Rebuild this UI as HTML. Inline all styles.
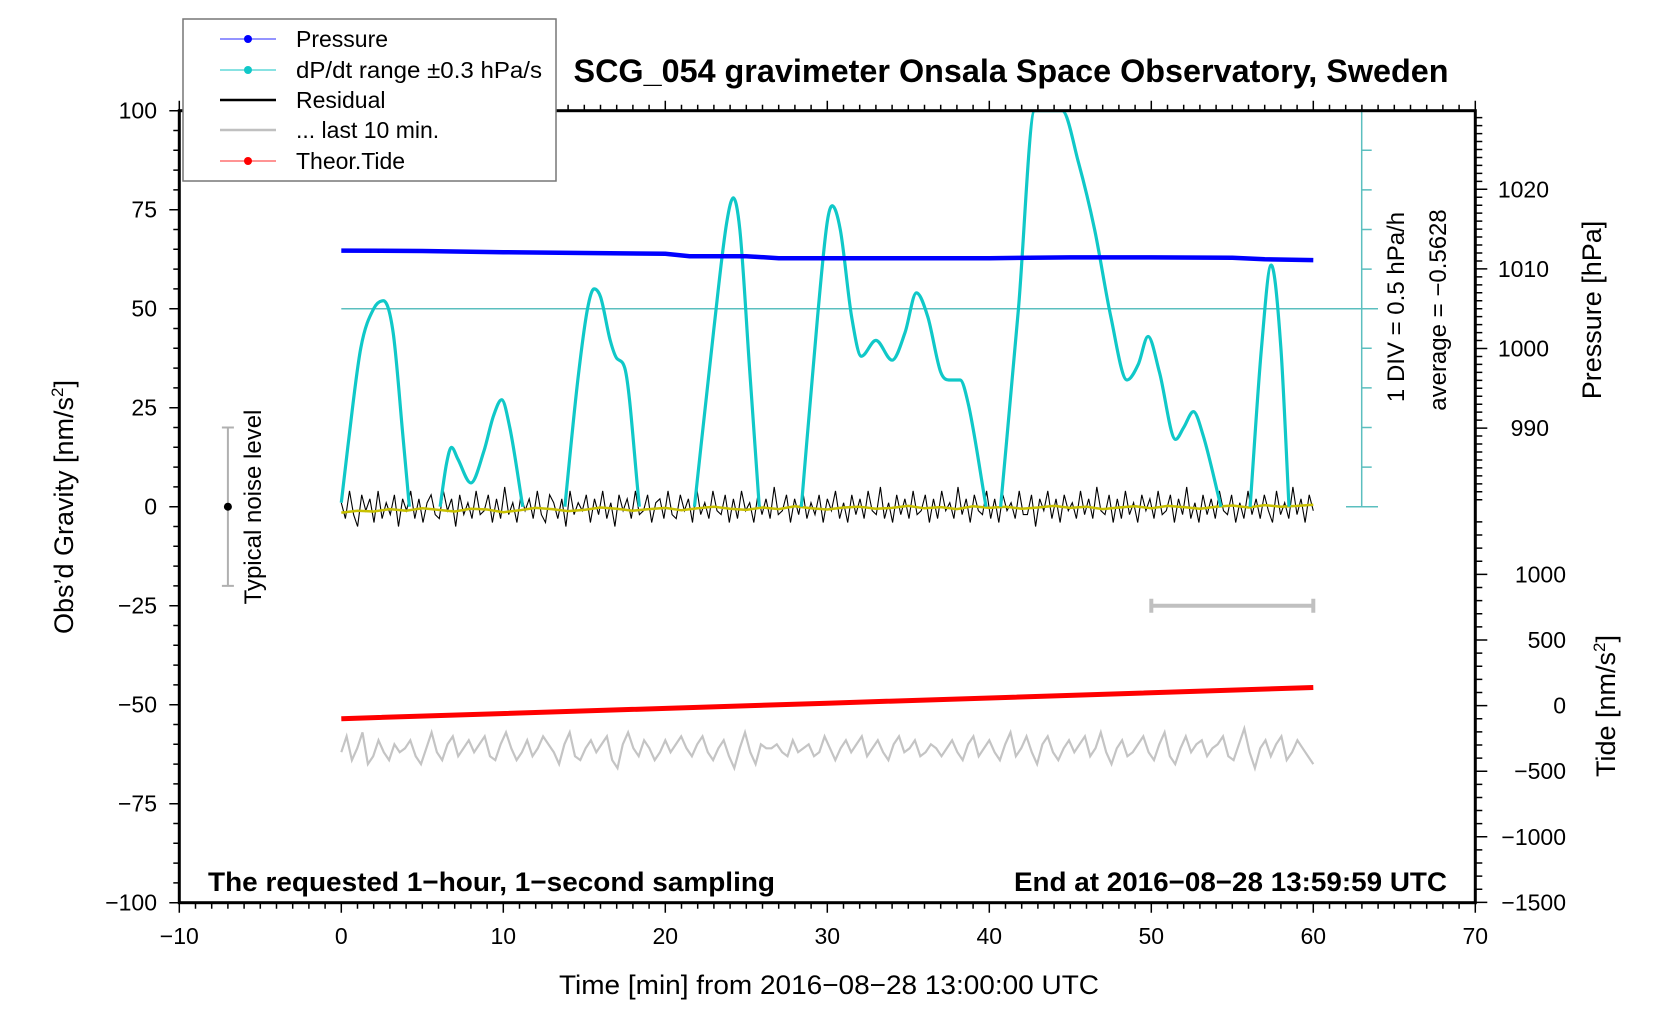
<!DOCTYPE html>
<html><head><meta charset="utf-8"><style>
html,body{margin:0;padding:0;background:#fff;}
svg{display:block;font-family:"Liberation Sans",Arial,sans-serif;}
</style></head><body>
<svg id="chart" width="1676" height="1020" viewBox="0 0 1676 1020" xmlns="http://www.w3.org/2000/svg">
<defs><clipPath id="plotclip"><rect x="179" y="110" width="1297" height="793"/></clipPath></defs>
<g id="layer-marks" clip-path="url(#plotclip)"></g>
<g id="layer-axes"></g>
<g id="layer-text"></g>
</svg>
<script>
// ---- data ----
const xTicks = [-10,0,10,20,30,40,50,60,70];
const gTicks = [100,75,50,25,0,-25,-50,-75,-100];
const pTicks = [1020,1010,1000,990];
const tTicks = [1000,500,0,-500,-1000,-1500];
const dpTimes = [0,0.4,1.2,2.0,2.6,3.2,3.8,4.2,6.1,6.5,6.8,7.2,8.0,8.8,9.4,9.9,10.4,11.2,13.8,14.6,15.2,15.6,16.0,16.6,17.0,17.5,18.4,21.8,23.0,23.8,24.2,24.6,25.2,25.8,28.4,29.4,30.0,30.3,30.8,31.5,32.1,33.0,34.0,34.8,35.5,36.2,37.0,37.5,38.2,38.7,39.8,40.7,41.8,42.8,44.5,45.5,46.5,47.5,48.5,49.2,49.8,50.5,51.5,52.0,52.6,53.2,54.3,56.1,56.8,57.4,58.0,58.5];
const dpValues = [1,15,40,50,52,44,18,0,0,11,15,12,6,14,23,27,20,0,0,32,50,55,53,42,37.5,35,0,0,45,72,78,70,35,0,0,48,72,76,70,48,38,42,37,44,54,48,34,32,32,26,0,0,50,100,100,87,70,48,32,36,43,34,17,20,24,18,0,0,40,61,40,0];
const pTimes = [0,5,10,15,20,21.5,25,27,33,40,45,50,55,57,60];
const pValues = [1012.3,1012.25,1012.1,1012.0,1011.9,1011.6,1011.6,1011.35,1011.35,1011.35,1011.45,1011.45,1011.4,1011.2,1011.1];
const tideTimes = [0,30,60];
const tideValues = [-100,18,138];
const residual = [1,-3,4,-2,-5,3,-1,2,-4,4,-3,1,-2,3,-5,2,-1,4,-3,2,-4,1,3,-2,-3,4,-1,2,-5,3,-2,1,-3,4,-2,-1,3,-4,2,-3,5,-2,1,-4,3,-1,2,-3,4,-2,-4,3,1,-3,2,-5,4,-2,1,-1,3,-4,2,-2,4,-3,1,-5,3,-1,2,-3,4,-2,-1,3,-4,1,2,-3,4,-2,-3,3,-1,2,-4,5,-2,1,-3,4,-1,-2,3,-4,2,-3,4,-1,1,-4,3,-2,2,-3,5,-2,-1,3,-4,2,-2,4,-3,1,-2,3,-4,2,-1,4,-3,1,-4,3,-2,2,-3,4,-1,-2,5,-3,1,-4,3,-2,2,-3,4,-2,-1,3,-4,2,-3,4,-1,1,-3,5,-2,2,-4,3,-1,-2,4,-3,2,-4,3,-1,1,-3,4,-2,-2,3,-5,2,-1,4,-3,2,-4,3,-1,1,-3,4,-2,2,-3,5,-1,-2,3,-4,2,-3,4,-2,1,-4,3,-1,2,-3,4,-2,-1,3,-4,2,-2,5,-3,1,-4,3,-2,2,-3,4,-1,-2,3,-4,1,-3,4,-2,2,-3,3,-1,-4,4,-2,1,-3,5,-2,2,-4,3,-1];
const smooth = [-1.5,-1,-1.2,-0.6,-1,-0.4,-0.8,-1.2,-0.5,-0.7,-1.4,-0.9,-0.3,-0.6,-1.1,-0.8,-0.2,-0.5,-1,-0.6,-0.3,-0.9,-0.4,0,-0.5,-0.8,-0.2,-0.6,0.1,-0.4,-0.7,-0.2,0,-0.5,-0.3,0.2,-0.4,-0.1,-0.6,0.1,-0.3,0,-0.5,-0.2,0.2,-0.3,0,-0.6,-0.2,0.1,-0.4,0.2,-0.1,-0.5,0,0.3,-0.2,0.4,0,0.2,0.5];
const last10 = [-62,-58,-64,-61,-57,-65,-63,-59,-62,-64,-60,-62,-61,-59,-63,-65,-61,-57,-62,-64,-60,-58,-63,-61,-59,-62,-60,-58,-63,-64,-60,-57,-61,-64,-62,-59,-63,-61,-58,-60,-62,-65,-60,-57,-63,-64,-61,-59,-62,-60,-58,-64,-66,-60,-57,-61,-63,-59,-61,-64,-62,-59,-62,-60,-58,-61,-63,-60,-58,-62,-64,-61,-59,-63,-66,-61,-57,-62,-65,-60,-61,-61,-60,-62,-63,-59,-62,-61,-60,-63,-62,-58,-61,-64,-61,-59,-62,-60,-58,-63,-61,-59,-62,-64,-60,-58,-62,-61,-59,-63,-62,-60,-61,-63,-61,-59,-62,-64,-60,-58,-63,-61,-59,-62,-64,-60,-57,-63,-61,-58,-62,-65,-60,-58,-62,-64,-61,-59,-62,-60,-58,-63,-61,-57,-62,-65,-61,-59,-63,-62,-60,-58,-62,-64,-60,-57,-63,-65,-61,-58,-62,-60,-59,-63,-61,-60,-58,-63,-64,-60,-56,-62,-66,-61,-59,-63,-60,-58,-64,-62,-59,-61,-63,-65];
// ---- scales ----
const X = t => 341.3 + t*16.2;
const Yg = g => 506.7 - g*3.96;
const Yp = p => 189.3 - (p-1020)*7.96;
const Yt = v => 705.6 - v*0.1312;
const NS = "http://www.w3.org/2000/svg";
function mk(tag, attrs, parent){const e=document.createElementNS(NS,tag);for(const k in attrs)e.setAttribute(k,attrs[k]);parent.appendChild(e);return e;}
const marks=document.getElementById('layer-marks'), axes=document.getElementById('layer-axes'), txt=document.getElementById('layer-text');
function monotone(xs,ys){const n=xs.length;if(n<2)return '';const d=[],m=[];for(let i=0;i<n-1;i++)d.push((ys[i+1]-ys[i])/(xs[i+1]-xs[i]));m[0]=d[0];m[n-1]=d[n-2];for(let i=1;i<n-1;i++){m[i]=(d[i-1]*d[i]<=0)?0:(d[i-1]+d[i])/2;}
for(let i=0;i<n-1;i++){if(d[i]===0){m[i]=0;m[i+1]=0;continue;}const a=m[i]/d[i],b=m[i+1]/d[i],s=a*a+b*b;if(s>9){const t=3/Math.sqrt(s);m[i]=t*a*d[i];m[i+1]=t*b*d[i];}}
let p='M'+xs[0]+','+ys[0];for(let i=0;i<n-1;i++){const h=(xs[i+1]-xs[i])/3;p+=' C'+(xs[i]+h)+','+(ys[i]+m[i]*h)+' '+(xs[i+1]-h)+','+(ys[i+1]-m[i+1]*h)+' '+xs[i+1]+','+ys[i+1];}return p;}
function poly(xs,ys){return xs.map((x,i)=>x.toFixed(1)+','+ys[i].toFixed(1)).join(' ');}

let e;
e=mk('line',{x1:X(0),y1:Yg(50),x2:1378,y2:Yg(50),stroke:'#5bbfbf','stroke-width':1.5},marks);


e=mk('polyline',{points:poly(last10.map((v,i)=>X(i*60/(last10.length-1))),last10.map(Yg)),fill:'none',stroke:'#c4c4c4','stroke-width':2.2},marks);


e=mk('polyline',{points:poly(tideTimes.map(X),tideValues.map(Yt)),fill:'none',stroke:'#ff0000','stroke-width':5},marks);


e=mk('polyline',{points:poly(residual.map((v,i)=>X(i*60/(residual.length-1))),residual.map(Yg)),fill:'none',stroke:'#000','stroke-width':1.1},marks);


e=mk('polyline',{points:poly(smooth.map((v,i)=>X(i*60/(smooth.length-1))),smooth.map(Yg)),fill:'none',stroke:'#c8c000','stroke-width':2.5},marks);


// dp/dt cyan: split into segments, skipping zero-to-zero gaps
let seg=[[]];
for(let i=0;i<dpTimes.length;i++){
  seg[seg.length-1].push(i);
  if(i<dpTimes.length-1 && dpValues[i]===0 && dpValues[i+1]===0){seg.push([]);}
}
let dpPath='';
seg.forEach(s=>{if(s.length>1)dpPath+=monotone(s.map(i=>X(dpTimes[i])),s.map(i=>Yg(Math.max(0,dpValues[i]))))+' ';});
e=mk('path',{d:dpPath,fill:'none',stroke:'#10c8c8','stroke-width':3.2},marks);


e=mk('polyline',{points:poly(pTimes.map(X),pValues.map(Yp)),fill:'none',stroke:'#0000ff','stroke-width':4.5},marks);


e=mk('path',{d:`M${X(50)},${Yg(-25)} H${X(60)} M${X(50)},${Yg(-25)-7} V${Yg(-25)+7} M${X(60)},${Yg(-25)-7} V${Yg(-25)+7}`,stroke:'#c0c0c0','stroke-width':4,fill:'none'},marks);


e=mk('path',{d:`M${X(-7)},${Yg(20)} V${Yg(-20)} M${X(-7)-6},${Yg(20)} h12 M${X(-7)-6},${Yg(-20)} h12`,stroke:'#b0b0b0','stroke-width':2,fill:'none'},marks);


e=mk('circle',{cx:X(-7),cy:Yg(0),r:4,fill:'#000'},marks);



let dv='M1361.7,110.7 V506.7 M1346,110.7 H1378 M1346,506.7 H1378';
for(let g=10;g<100;g+=10){dv+=` M1361.7,${Yg(g)} h10`;}
e=mk('path',{d:dv,stroke:'#5bbfbf','stroke-width':1.5,fill:'none'},axes);



e=mk('rect',{x:179.3,y:110.7,width:1296,height:792,fill:'none',stroke:'#000','stroke-width':3},axes);


let tk='';
for(let t=-10;t<=70;t++){const L=(t%10===0)?10:6;tk+=`M${X(t)},902.7 v${L} M${X(t)},110.7 v${-L} `;}
for(let g=-100;g<=100;g+=5){tk+=`M179.3,${Yg(g)} h${g%25===0?-10:-6} `;}
for(let p=981;p<=1029;p++){tk+=`M1475.3,${Yp(p)} h${p%10===0?12:7} `;}
for(let v=-1500;v<=1400;v+=100){tk+=`M1475.3,${Yt(v)} h${v%500===0?12:7} `;}
e=mk('path',{d:tk,stroke:'#000','stroke-width':1.5,fill:'none'},axes);



function T(s,x,y,opts,name){const t=mk('text',Object.assign({x:x,y:y,'font-size':23,fill:'#000'},opts||{}),txt);t.textContent=s;return t;}
xTicks.forEach(v=>T(String(v).replace('-','\u2212'),X(v),944,{'text-anchor':'middle'},'x-tick-label'));
gTicks.forEach(v=>T(String(v).replace('-','\u2212'),157,Yg(v)+8,{'text-anchor':'end'},'y-tick-label'));
pTicks.forEach(v=>T(String(v),1549,Yp(v)+8,{'text-anchor':'end'},'pressure-tick-label'));
tTicks.forEach(v=>T(String(v).replace('-','\u2212'),1566,Yt(v)+8,{'text-anchor':'end'},'tide-tick-label'));
</script>
<svg style="position:absolute;left:0;top:0" width="1676" height="1020" xmlns="http://www.w3.org/2000/svg" font-family="Liberation Sans, Arial, sans-serif">
<text x="1011" y="82" font-size="32" font-weight="bold" text-anchor="middle" textLength="875" lengthAdjust="spacingAndGlyphs">SCG_054 gravimeter Onsala Space Observatory, Sweden</text>
<text x="829" y="994" font-size="27" text-anchor="middle" textLength="540" lengthAdjust="spacingAndGlyphs">Time [min] from 2016−08−28 13:00:00 UTC</text>
<text transform="translate(73,507) rotate(-90)" font-size="27" text-anchor="middle">Obs’d Gravity [nm/s<tspan font-size="17" dy="-10">2</tspan><tspan dy="10">]</tspan></text>
<text transform="translate(1601,310) rotate(-90)" font-size="27" text-anchor="middle">Pressure [hPa]</text>
<text transform="translate(1615,706) rotate(-90)" font-size="27" text-anchor="middle">Tide [nm/s<tspan font-size="17" dy="-10">2</tspan><tspan dy="10">]</tspan></text>
<text transform="translate(1404,307) rotate(-90)" font-size="24" text-anchor="middle">1 DIV = 0.5 hPa/h</text>
<text transform="translate(1446,310) rotate(-90)" font-size="24" text-anchor="middle">average = −0.5628</text>
<text transform="translate(261,507) rotate(-90)" font-size="24" text-anchor="middle">Typical noise level</text>
<text x="208" y="891" font-size="27" font-weight="bold" textLength="567" lengthAdjust="spacingAndGlyphs">The requested 1−hour, 1−second sampling</text>
<text x="1447" y="891" font-size="27" font-weight="bold" text-anchor="end" textLength="433" lengthAdjust="spacingAndGlyphs">End at 2016−08−28 13:59:59 UTC</text>
<g font-size="23">
<rect x="183" y="19" width="373" height="162" fill="#fff" stroke="#777" stroke-width="1.5"/>
<g><line x1="220" y1="39" x2="276" y2="39" stroke="#5555ff" stroke-width="1.2"/><circle cx="248" cy="39" r="4" fill="#0000ff"/><text x="296" y="47">Pressure</text></g>
<g><line x1="220" y1="70" x2="276" y2="70" stroke="#40d0d0" stroke-width="1.2"/><circle cx="248" cy="70" r="4" fill="#10c8c8"/><text x="296" y="78" textLength="246" lengthAdjust="spacingAndGlyphs">dP/dt range ±0.3 hPa/s</text></g>
<g><line x1="220" y1="100" x2="276" y2="100" stroke="#000" stroke-width="2.5"/><text x="296" y="108">Residual</text></g>
<g><line x1="220" y1="130" x2="276" y2="130" stroke="#c0c0c0" stroke-width="2.5"/><text x="296" y="138">... last 10 min.</text></g>
<g><line x1="220" y1="161" x2="276" y2="161" stroke="#ff5555" stroke-width="1.2"/><circle cx="248" cy="161" r="4" fill="#ff0000"/><text x="296" y="169">Theor.Tide</text></g>
</g>
</svg>
</body></html>
